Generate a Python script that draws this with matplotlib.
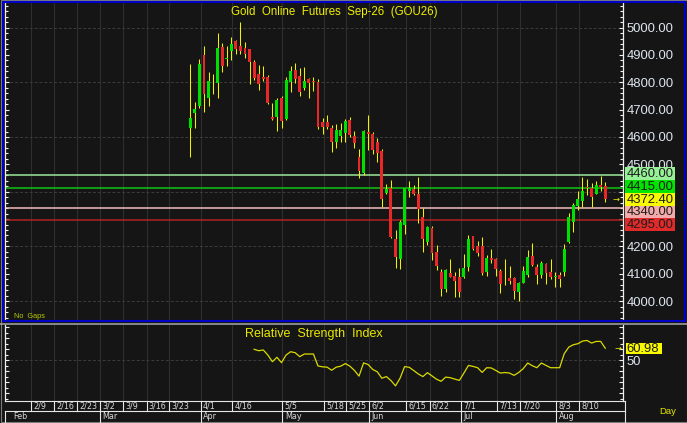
import numpy as np
import matplotlib
matplotlib.use('Agg')
import matplotlib.pyplot as plt
from matplotlib.patches import Rectangle
from matplotlib.ticker import MultipleLocator, FixedLocator, FuncFormatter

# ---------------- data ----------------
opens = [4632, 4689, 4713, 4900, 4741, 4803, 4799, 4930, 4885, 4914,
         4951, 4933, 4924, 4920, 4873, 4829, 4821, 4818, 4674, 4673,
         4744, 4666, 4802, 4845, 4824, 4778, 4812, 4805, 4800, 4656,
         4656, 4634, 4581, 4605, 4613, 4662, 4605, 4528, 4467, 4617,
         4611, 4581, 4549, 4396, 4412, 4227, 4153, 4278, 4403, 4409,
         4392, 4306, 4217, 4266, 4181, 4108, 4043, 4102, 4092, 4089,
         4087, 4123, 4238, 4203, 4201, 4108, 4156, 4153, 4111, 4075,
         4083, 4086, 4034, 4067, 4095, 4165, 4126, 4095, 4136, 4108,
         4087, 4094, 4108, 4217, 4290, 4349, 4366, 4418, 4412, 4390,
         4425, 4421]
highs = [4866, 4727, 4885, 4934, 4836, 4830, 4979, 4942, 4934, 4967,
         4955, 5019, 4946, 4921, 4882, 4863, 4860, 4827, 4723, 4741,
         4751, 4818, 4861, 4869, 4853, 4855, 4817, 4821, 4812, 4668,
         4680, 4644, 4646, 4650, 4666, 4672, 4622, 4556, 4626, 4680,
         4620, 4598, 4555, 4427, 4443, 4260, 4297, 4412, 4440, 4425,
         4453, 4339, 4275, 4275, 4205, 4116, 4116, 4153, 4108, 4120,
         4172, 4242, 4239, 4221, 4233, 4169, 4189, 4156, 4116, 4153,
         4128, 4089, 4071, 4128, 4187, 4211, 4136, 4148, 4141, 4153,
         4108, 4108, 4209, 4321, 4358, 4404, 4455, 4445, 4433, 4440,
         4457, 4434]
lows = [4528, 4632, 4705, 4693, 4715, 4757, 4744, 4839, 4861, 4882,
        4902, 4902, 4890, 4794, 4808, 4772, 4806, 4720, 4662, 4622,
        4632, 4662, 4766, 4796, 4751, 4772, 4741, 4768, 4629, 4611,
        4629, 4546, 4559, 4581, 4581, 4601, 4561, 4451, 4461, 4552,
        4537, 4507, 4345, 4390, 4229, 4122, 4117, 4245, 4379, 4388,
        4284, 4181, 4205, 4150, 4114, 4019, 4034, 4087, 4014, 4016,
        4083, 4111, 4187, 4165, 4095, 4092, 4141, 4092, 4031, 4059,
        4063, 4006, 4002, 4065, 4087, 4128, 4063, 4083, 4063, 4080,
        4053, 4053, 4092, 4214, 4251, 4333, 4345, 4388, 4343, 4390,
        4404, 4364]
closes = [4668, 4701, 4867, 4757, 4805, 4805, 4924, 4860, 4888, 4940,
          4921, 4914, 4903, 4876, 4815, 4794, 4812, 4726, 4665, 4735,
          4659, 4808, 4841, 4812, 4766, 4805, 4796, 4800, 4638, 4638,
          4638, 4581, 4624, 4626, 4660, 4607, 4577, 4476, 4622, 4610,
          4552, 4540, 4373, 4409, 4236, 4162, 4290, 4412, 4412, 4392,
          4336, 4226, 4270, 4177, 4130, 4043, 4114, 4089, 4075, 4034,
          4120, 4227, 4191, 4177, 4102, 4156, 4150, 4117, 4063, 4072,
          4075, 4038, 4065, 4111, 4160, 4132, 4095, 4138, 4104, 4089,
          4092, 4080, 4191, 4309, 4351, 4373, 4404, 4413, 4382, 4425,
          4416, 4372.40]

rsi_start = 14
rsi_values = [60.0, 58.7, 59.4, 54.8, 48.7, 52.7, 47.8, 54.8, 57.8, 56.9,
              53.3, 55.7, 55.7, 55.7, 44.8, 44.0, 43.7, 40.9, 43.7, 44.6,
              47.0, 44.6, 40.7, 35.5, 47.6, 46.1, 41.6, 39.5, 33.6, 35.1,
              31.5, 26.6, 33.6, 44.2, 43.6, 40.6, 37.5, 35.1, 38.7, 35.7,
              32.7, 30.8, 34.6, 34.1, 32.8, 31.6, 38.3, 45.3, 44.4, 43.2,
              38.9, 43.2, 43.0, 40.7, 38.3, 38.8, 38.3, 36.2, 38.8, 42.3,
              47.5, 45.0, 43.2, 47.5, 45.3, 43.2, 43.2, 43.2, 56.0, 62.0,
              64.2, 65.1, 67.5, 68.1, 65.7, 67.2, 67.2, 60.98]

level_prices = [4460.00, 4415.00, 4340.00, 4295.00]
level_line_colors = ['#9be89b', '#12c412', '#f2bcbc', '#b02222']
level_box_colors = ['#96f096', '#00e400', '#f2aaaa', '#e02a2a']
last_box_color = '#f8f800'

day_labels = ['2/9', '2/16', '2/23', '3/2', '3/9', '3/16', '3/23', '4/1', '4/16',
              '5/5', '5/18', '5/25', '6/2', '6/15', '6/22', '7/1', '7/13', '7/20',
              '8/3', '8/10']
day_offsets = [-35.0, -29.9, -24.9, -19.8, -14.7, -9.6, -4.6, 2.3, 9.2,
               20.2, 29.4, 34.2, 39.2, 47.4, 52.5, 59.3, 67.2, 72.3,
               80.2, 85.3]
month_labels = ['Mar', 'Apr', 'May', 'Jun', 'Jul', 'Aug']
month_offsets = [-19.8, 2.3, 20.2, 39.2, 59.3, 80.2]
first_month = 'Feb'

price_labels_hidden = [4300, 4400]   # covered by the level boxes in the original

title = 'Gold  Online  Futures  Sep-26  (GOU26)'
rsi_title = 'Relative  Strength  Index'

# ---------------- style ----------------
plt.rcParams['font.family'] = ['Liberation Sans', 'DejaVu Sans']
W, H = 687, 423
BG = '#151515'
GREEN = '#00e000'
RED = '#e82828'
WICK = '#f2f200'
AXCOL = '#f0f0f0'
LBL = '#dde5ef'
GRID = '#2e2e2e'
DASH = '#3c3c3c'

fig = plt.figure(figsize=(W / 100, H / 100), dpi=100, facecolor=BG)


def add_px_axes(l, t, r, b, **kw):
    return fig.add_axes([l / W, 1 - b / H, (r - l) / W, (b - t) / H], **kw)


bar_px = 4.56
first_bar_px = 190.3
L_PX, R_PX = 5, 623
xlim = ((L_PX - first_bar_px) / bar_px, (R_PX - first_bar_px) / bar_px)

# ---------------- price panel ----------------
ax = add_px_axes(L_PX, 3, R_PX, 320, facecolor=BG)
ax.set_xlim(xlim)
ax.set_ylim(3930.9, 5089.9)

x = np.arange(len(closes))
o = np.array(opens, float)
c = np.array(closes, float)
hi = np.array(highs, float)
lo = np.array(lows, float)

for d in day_offsets:
    ax.axvline(d, color=GRID, lw=0.8, zorder=1)
for p in range(4000, 5001, 200):
    ax.axhline(p, color=DASH, lw=0.7, ls=(0, (3, 2)), zorder=1)
for p, col in zip(level_prices, level_line_colors):
    ax.axhline(p, color=col, lw=1.1, zorder=2)

ax.vlines(x, lo, hi, colors=WICK, lw=0.75, zorder=3)
body_bot = np.minimum(o, c)
body_h = np.maximum(np.abs(c - o), 2.5)
ax.bar(x, body_h, width=0.64, bottom=body_bot,
       color=np.where(c >= o, GREEN, RED), lw=0, zorder=4)

for s in ['top', 'bottom']:
    ax.spines[s].set_visible(False)
for s in ['left', 'right']:
    ax.spines[s].set_color(AXCOL)
    ax.spines[s].set_linewidth(0.9)
ax.set_xticks([])
ax.yaxis.set_major_locator(MultipleLocator(100))
ax.yaxis.set_minor_locator(MultipleLocator(20))
ax.yaxis.set_major_formatter(FuncFormatter(
    lambda v, _: '' if any(abs(v - h) < 1e-6 for h in price_labels_hidden) else f'{v:.2f}'))
ax.tick_params(axis='y', which='both', direction='in', color=AXCOL,
               left=True, right=True, labelleft=False, labelright=True,
               labelcolor=LBL, labelsize=9.4, pad=2.5, width=0.8)
ax.tick_params(axis='y', which='major', length=3.2)
ax.tick_params(axis='y', which='minor', length=2.0)

# ---------------- RSI panel ----------------
rx = add_px_axes(L_PX, 325, R_PX, 401, facecolor=BG)
rx.set_xlim(xlim)
rx.set_ylim(12.8, 82.2)
for d in day_offsets:
    rx.axvline(d, color=GRID, lw=0.8, zorder=1)
rx.axhline(50, color=DASH, lw=0.7, ls=(0, (3, 2)), zorder=1)
rsi_x = np.arange(rsi_start, rsi_start + len(rsi_values))
rx.plot(rsi_x, rsi_values, color='#dada00', lw=0.9, zorder=3)
for s in ['top', 'bottom']:
    rx.spines[s].set_visible(False)
for s in ['left', 'right']:
    rx.spines[s].set_color(AXCOL)
    rx.spines[s].set_linewidth(0.9)
rx.set_xticks([])
rx.yaxis.set_major_locator(FixedLocator([20, 30, 40, 50, 60, 70, 80]))
rx.yaxis.set_minor_locator(MultipleLocator(5))
rx.yaxis.set_major_formatter(FuncFormatter(lambda v, _: '50' if abs(v - 50) < 1e-6 else ''))
rx.tick_params(axis='y', which='both', direction='in', color=AXCOL,
               left=True, right=True, labelleft=False, labelright=True,
               labelcolor=LBL, labelsize=9.4, pad=2.5, width=0.8)
rx.tick_params(axis='y', which='major', length=3.2)
rx.tick_params(axis='y', which='minor', length=2.0)

# ---------------- overlay (pixel coords) ----------------
ov = fig.add_axes([0, 0, 1, 1], facecolor='none')
ov.set_zorder(10)
ov.set_xlim(0, W)
ov.set_ylim(H, 0)
ov.axis('off')


def to_px(a, xv, yv):
    dx, dy = a.transData.transform((xv, yv))
    return dx, H - dy


# frames
ov.add_patch(Rectangle((0.5, 0.5), W - 1, H - 1, fill=False, ec='#7c7c7c', lw=0.8))
ov.add_patch(Rectangle((2.5, 2.0), 682, 319.5, fill=False, ec='#0000c8', lw=1.5))
ov.plot([0, W], [323.6, 323.6], color='#a8a8a8', lw=1.1)

# level boxes (stacked, anchored at last price)
items = [(p, col, f'{p:.2f}') for p, col in zip(level_prices, level_box_colors)]
items.append((closes[-1], last_box_color, f'{closes[-1]:.2f}'))
items.sort(key=lambda t: -t[0])
ys = [to_px(ax, 0, t[0])[1] for t in items]
bh = 12.8
cs = [ys[0]]
for yv in ys[1:]:
    cs.append(max(yv, cs[-1] + bh))
ilast = [t[0] for t in items].index(closes[-1])
shift = ys[ilast] - cs[ilast]
cs = [cv + shift for cv in cs]
for (p, col, txt), cy in zip(items, cs):
    ov.add_patch(Rectangle((625, cy - bh / 2), 50, bh, fc=col, ec='none'))
    ov.text(626.3, cy + 0.3, txt, color='#1e1e1e', fontsize=9.4, ha='left', va='center')

# last price arrow
_, ylp = to_px(ax, 0, closes[-1])
ov.text(616, ylp, '→', color='#e8e800', fontsize=6, ha='center', va='center',
        family=['DejaVu Sans'])

# RSI value box
_, yr = to_px(rx, 0, rsi_values[-1])
ov.add_patch(Rectangle((625.5, yr - 5.6), 36.5, 11.2, fc=last_box_color, ec='none'))
ov.text(626.3, yr + 0.3, f'{rsi_values[-1]:.2f}', color='#1e1e1e', fontsize=9.4,
        ha='left', va='center')
ov.text(618, yr, '→', color='#e8e800', fontsize=6, ha='center', va='center',
        family=['DejaVu Sans'])

# titles and small texts
ov.text(334, 12, title, color='#f0f000', fontsize=8.3, ha='center', va='center')
ov.text(313.5, 333.5, rsi_title, color='#e8e800', fontsize=9.0, ha='center', va='center')
ov.text(14, 316, 'No  Gaps', color='#b8c800', fontsize=5.3, ha='left', va='center')
ov.text(668, 411.5, 'Day', color='#e8e800', fontsize=6.8, ha='center', va='center')

# date rows
LC = '#e6e6e6'
ov.plot([5, 625], [401.5, 401.5], color=LC, lw=0.8)
ov.plot([5, 625], [410.8, 410.8], color=LC, lw=0.8)
ov.plot([625, 625], [401.5, 422], color=LC, lw=0.8)
ov.plot([5, 5], [410.8, 422], color=LC, lw=0.8)
for lab, d in zip(day_labels, day_offsets):
    xp, _ = to_px(ax, d, 4000)
    ov.plot([xp, xp], [401.5, 410.8], color=LC, lw=0.8)
    ov.text(xp + 2.2, 406.4, lab, color='#d8d8d8', fontsize=5.8, ha='left', va='center',
            family=['DejaVu Sans'])
ov.text(13, 416.5, first_month, color='#d8d8d8', fontsize=5.8, ha='left', va='center',
        family=['DejaVu Sans'])
for lab, d in zip(month_labels, month_offsets):
    xp, _ = to_px(ax, d, 4000)
    ov.plot([xp, xp], [410.8, 422], color=LC, lw=0.8)
    ov.text(xp + 2.5, 416.5, lab, color='#d8d8d8', fontsize=5.8, ha='left', va='center',
            family=['DejaVu Sans'])

fig.savefig('out.png', dpi=100, facecolor=BG)
